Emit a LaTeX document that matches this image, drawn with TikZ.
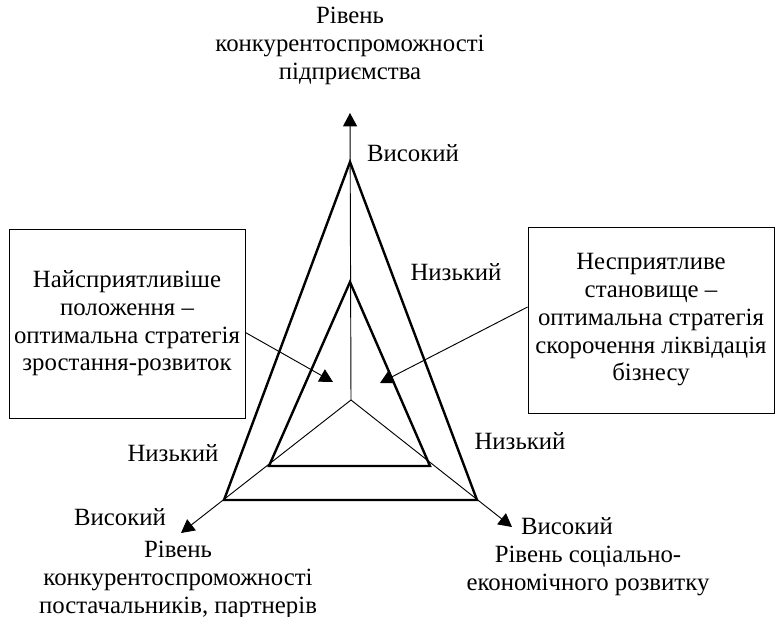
\documentclass[tikz,border=0pt]{standalone}
\usepackage{fontspec}
\setmainfont{Liberation Serif}
\usetikzlibrary{arrows.meta,calc}

\begin{document}
\begin{tikzpicture}[x=0.75pt,y=-0.75pt,
  axis/.style={line width=0.7pt, -{Triangle[length=10pt,width=10.5pt]}},
  pointer/.style={line width=0.7pt, -{Triangle[length=10pt,width=10.5pt]}},
  tri/.style={line width=1.8pt, line join=miter},
  lbl/.style={font=\fontsize{18.6}{20.8}\selectfont, align=center, inner sep=0pt},
  box/.style={draw, line width=0.7pt, lbl}]
\useasboundingbox (0,0) rectangle (775,617);
\coordinate (O) at (351,400);
\coordinate (topEnd) at (350,113);
\coordinate (leftEnd) at (181,533);
\coordinate (rightEnd) at (512,527);
\draw[tri] (350,162) -- (477,500) -- (224,500) -- cycle;
\draw[tri] (350,282) -- (430,466) -- (269,466) -- cycle;
\draw[axis] (O) -- (topEnd);
\draw[axis] (O) -- (leftEnd);
\draw[axis] (O) -- (rightEnd);
% labels of the axes
\node[lbl] (topLbl) at (350,46) {Рівень\\конкурентоспроможності\\підприємства};
\node[lbl] (hiTop) at (413,153) {Високий};
\node[lbl] (loTop) at (456,272) {Низький};
\node[lbl] (loRight) at (520,441) {Низький};
\node[lbl] (hiRight) at (567,526) {Високий};
\node[lbl] (rightLbl) at (588,571) {Рівень соціально-\\економічного розвитку};
\node[lbl] (loLeft) at (173,453) {Низький};
\node[lbl] (hiLeft) at (120,517) {Високий};
\node[lbl] (leftLbl) at (178,580) {Рівень\\конкурентоспроможності\\постачальників, партнерів};
% boxes
\node[box, minimum width=177pt, minimum height=141.75pt] (goodBox) at (127,323.5)
  {Найсприятливіше\\положення –\\оптимальна стратегія\\зростання-розвиток};
\node[box, minimum width=184.5pt, minimum height=139.5pt] (badBox) at (651,320)
  {Несприятливе\\становище –\\оптимальна стратегія\\скорочення ліквідація\\бізнесу};
\coordinate (goodTip) at (333,382);
\coordinate (badTip) at (380,383);
\draw[pointer] ($(goodBox.east)+(0,9)$) -- (goodTip);
\draw[pointer] ($(badBox.west)+(0,-13)$) -- (badTip);
\end{tikzpicture}
\end{document}
